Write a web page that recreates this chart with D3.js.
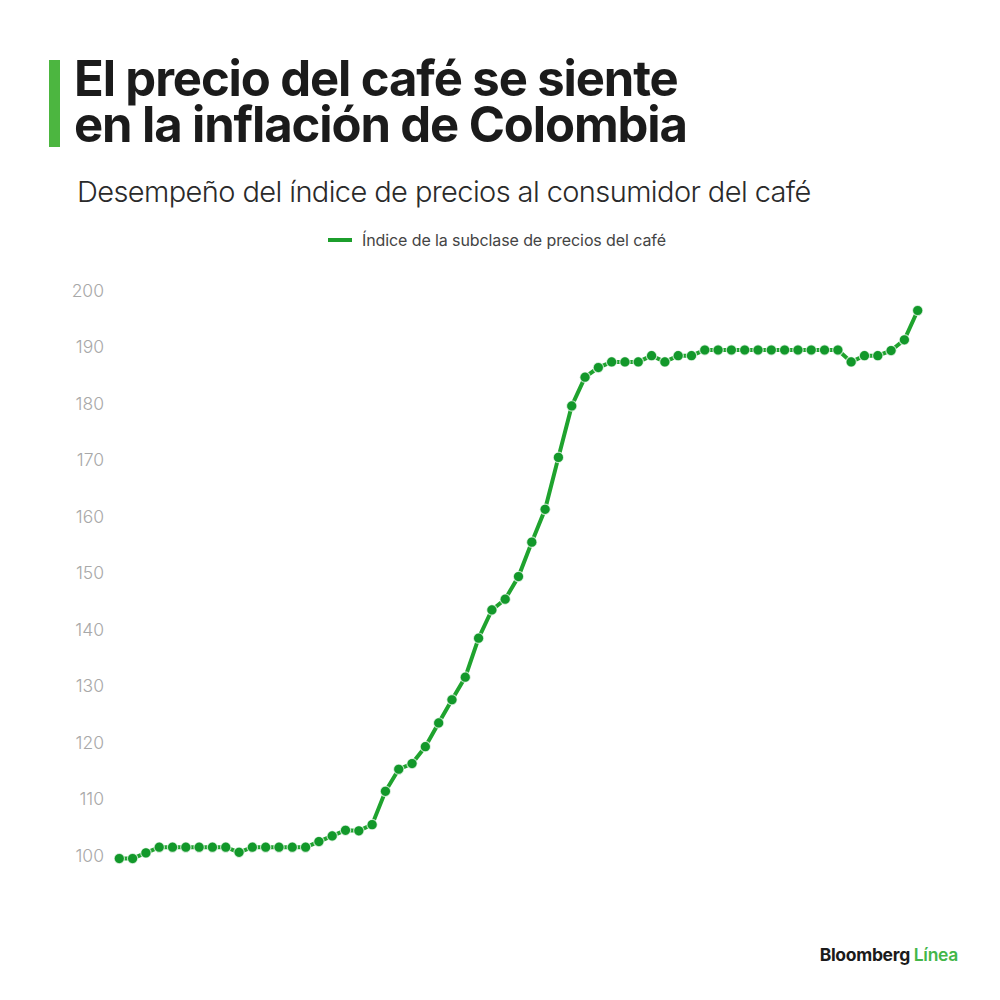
<!DOCTYPE html>
<html lang="es">
<head>
<meta charset="utf-8">
<title>Precio del café - Colombia</title>
<style>
  body { margin: 0; background: #fff; }
  svg { display: block; font-family: Inter, "Liberation Sans", sans-serif; }
</style>
</head>
<body>
<svg id="chart" width="1000" height="1000"></svg>
<script src="https://d3js.org/d3.v7.min.js"></script>
<script>
// índice de la subclase de precios del café, un valor por mes
const periodos = d3.range(61);
const indiceCafe = [
  99.5, 99.5, 100.5, 101.5, 101.5, 101.5, 101.5, 101.5, 101.5, 100.6,
  101.5, 101.5, 101.5, 101.5, 101.5, 102.5, 103.5, 104.5, 104.4, 105.5,
  111.4, 115.3, 116.3, 119.3, 123.5, 127.6, 131.6, 138.5, 143.5, 145.4,
  149.4, 155.5, 161.3, 170.5, 179.6, 184.7, 186.4, 187.4, 187.4, 187.4,
  188.5, 187.4, 188.5, 188.5, 189.5, 189.5, 189.5, 189.5, 189.5, 189.5,
  189.5, 189.5, 189.5, 189.5, 189.5, 187.4, 188.5, 188.5, 189.4, 191.3,
  196.5
];
const yTicks = [100, 110, 120, 130, 140, 150, 160, 170, 180, 190, 200];

const titulo = ["El precio del café se siente", "en la inflación de Colombia"];
const subtitulo = "Desempeño del índice de precios al consumidor del café";
const leyenda = "Índice de la subclase de precios del café";

const verde = "#12982a";
const svg = d3.select("#chart");

// cabecera
svg.append("rect").attr("x", 49).attr("y", 60).attr("width", 11).attr("height", 87).attr("fill", "#4cb640");
svg.selectAll("text.titulo").data(titulo).enter().append("text")
  .attr("class", "titulo")
  .attr("x", 74)
  .attr("y", (d, i) => 96 + i * 46)
  .attr("font-size", 49)
  .attr("font-weight", 700)
  .attr("letter-spacing", -1.1)
  .attr("fill", "#1b1b1b")
  .text(d => d);

svg.append("text")
  .attr("x", 77).attr("y", 202)
  .attr("font-size", 29)
  .attr("font-weight", 300)
  .attr("letter-spacing", -0.6)
  .attr("fill", "#2a2a2a")
  .text(subtitulo);

// leyenda
svg.append("line").attr("x1", 328).attr("x2", 352).attr("y1", 240).attr("y2", 240)
  .attr("stroke", "#1c9e2c").attr("stroke-width", 4);
svg.append("text")
  .attr("x", 362).attr("y", 245.5)
  .attr("font-size", 16)
  .attr("letter-spacing", -0.1)
  .attr("fill", "#444")
  .text(leyenda);

// escalas
const x = d3.scaleLinear().domain([0, periodos.length - 1]).range([119.3, 917.7]);
const y = d3.scaleLinear().domain([100, 200]).range([855.7, 290.7]);

const axis = svg.append("g").attr("transform", "translate(104,0)")
  .call(d3.axisLeft(y).tickValues(yTicks).tickSize(0).tickPadding(0));
axis.select(".domain").remove();
axis.selectAll("text")
  .attr("text-anchor", "end")
  .attr("font-family", "Inter, 'Liberation Sans', sans-serif")
  .attr("font-size", 17.5)
  .attr("font-weight", 300)
  .attr("fill", "#a8a8a8");

// serie
const line = d3.line().x((d, i) => x(periodos[i])).y(d => y(d));
svg.append("path")
  .datum(indiceCafe)
  .attr("fill", "none")
  .attr("stroke", "#1fa32e")
  .attr("stroke-width", 4)
  .attr("d", line);

svg.selectAll("circle.pt").data(indiceCafe).enter().append("circle")
  .attr("class", "pt")
  .attr("cx", (d, i) => x(periodos[i]))
  .attr("cy", d => y(d))
  .attr("r", 5.2)
  .attr("fill", verde)
  .attr("stroke", "#ffffff")
  .attr("stroke-opacity", 0.7)
  .attr("stroke-width", 1.2);

// logo
const logo = svg.append("text")
  .attr("x", 958).attr("y", 961)
  .attr("text-anchor", "end")
  .attr("font-size", 17.5)
  .attr("font-weight", 700)
  .attr("letter-spacing", -0.3);
logo.append("tspan").attr("fill", "#1b1b1b").text("Bloomberg ");
logo.append("tspan").attr("fill", "#43b649").attr("font-weight", 600).text("Línea");
</script>
</body>
</html>
